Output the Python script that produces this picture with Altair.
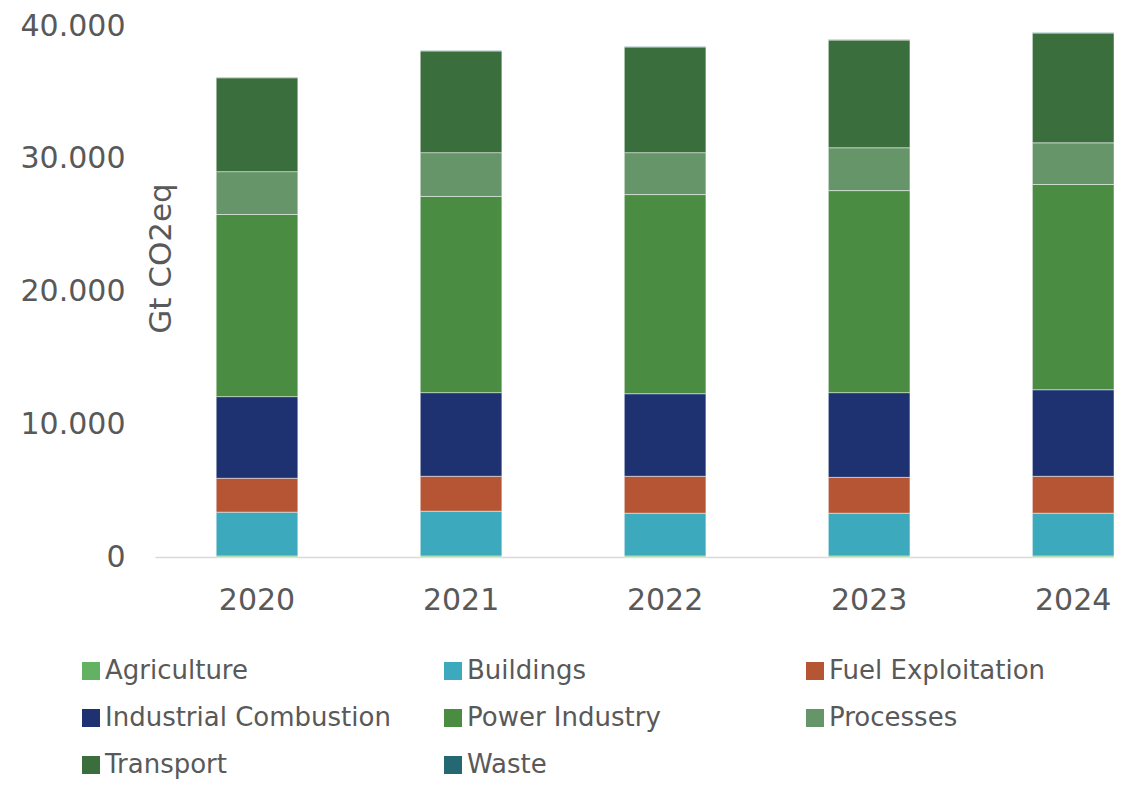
import altair as alt
import pandas as pd

years = ["2020", "2021", "2022", "2023", "2024"]
sectors = ["Agriculture", "Buildings", "Fuel Exploitation", "Industrial Combustion",
           "Power Industry", "Processes", "Transport", "Waste"]
colors = ["#63B162", "#3CA9BD", "#B55534", "#1E3272", "#4A8C42", "#66956A", "#3A6E3C", "#236873"]

agriculture = [80, 80, 80, 80, 80]
buildings = [3300, 3370, 3220, 3220, 3220]
fuel_exploitation = [2550, 2630, 2780, 2700, 2780]
industrial_combustion = [6150, 6300, 6220, 6380, 6520]
power_industry = [13720, 14780, 15000, 15220, 15460]
processes = [3230, 3300, 3160, 3230, 3140]
transport = [7070, 7660, 7960, 8110, 8270]
waste = [40, 40, 40, 40, 40]

series = [agriculture, buildings, fuel_exploitation, industrial_combustion,
          power_industry, processes, transport, waste]

rows = []
for i, (name, vals) in enumerate(zip(sectors, series)):
    for y, v in zip(years, vals):
        rows.append({"year": y, "sector": name, "value": v, "idx": i})
df = pd.DataFrame(rows)

FONT = "DejaVu Sans"
GREY = "#595959"
NBSP = "\u00a0"

label_expr = ("datum.label == 'Fuel Exploitation' || datum.label == 'Power Industry' ? '"
              + NBSP + "' + datum.label : datum.label")

chart = alt.Chart(df).mark_bar(stroke="#ffffff", strokeWidth=0.8, strokeOpacity=0.6).encode(
    x=alt.X("year:N", sort=years,
            scale=alt.Scale(paddingInner=0.6, paddingOuter=0.15, align=1),
            axis=alt.Axis(title=None, labelAngle=0, ticks=False, domainColor="#d9d9d9",
                          domainWidth=1.5, labelFontSize=30, labelColor=GREY,
                          labelFont=FONT, labelPadding=28)),
    y=alt.Y("value:Q", stack="zero",
            scale=alt.Scale(domain=[0, 40000], nice=False),
            axis=alt.Axis(values=[0, 10000, 20000, 30000, 40000],
                          labelExpr="replace(format(datum.value, ',d'), ',', '.')",
                          grid=False, domain=False, ticks=False,
                          labelFontSize=30, labelColor=GREY, labelFont=FONT, labelPadding=30,
                          title="Gt CO2eq", titleFont=FONT, titleFontSize=31,
                          titleFontWeight="normal", titleColor=GREY,
                          titleX=6, titleY=232, titleAngle=270,
                          titleAlign="center", titleBaseline="middle")),
    color=alt.Color("sector:N", scale=alt.Scale(domain=sectors, range=colors),
                    legend=alt.Legend(title=None, orient="none", legendX=-77, legendY=632,
                                      direction="horizontal",
                                      columns=3, gridAlign="all", columnPadding=49,
                                      rowPadding=21, symbolType="square", symbolSize=324,
                                      symbolStrokeWidth=0, labelFontSize=26,
                                      labelFont=FONT, labelColor=GREY, labelOffset=1,
                                      labelLimit=500, labelExpr=label_expr)),
    order=alt.Order("idx:Q", sort="ascending"),
    tooltip=["year", "sector", "value"],
).properties(
    width=959, height=531,
    autosize=alt.AutoSizeParams(type="none"),
    padding={"left": 147, "top": 18, "right": 0, "bottom": 225},
).configure_view(stroke=None)

chart.save("out.html", embed_options={"renderer": "svg", "actions": False})
